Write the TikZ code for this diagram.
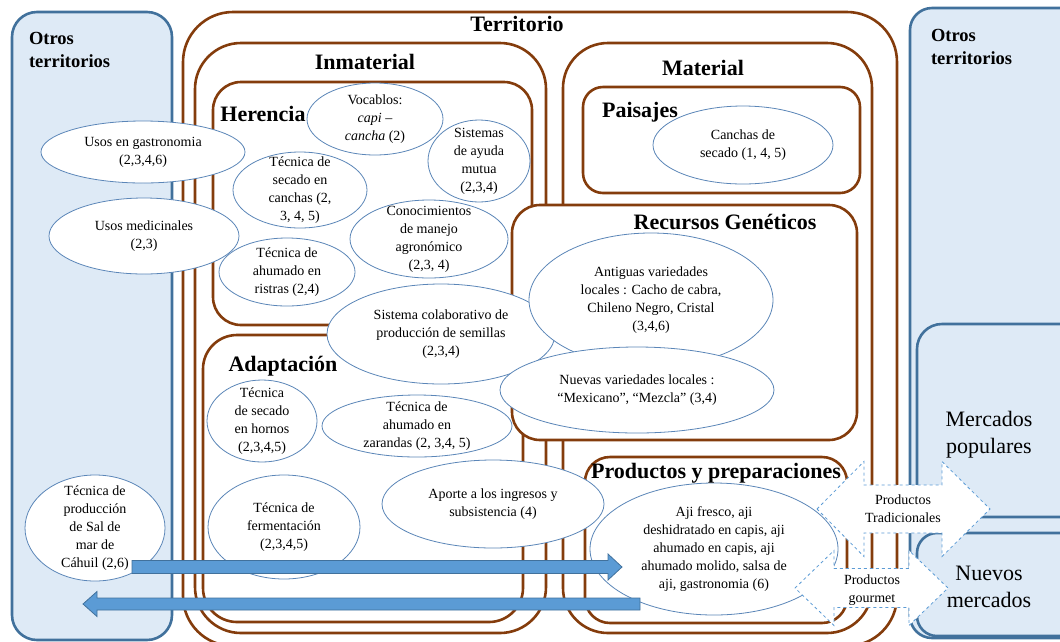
\documentclass[tikz,border=0pt]{standalone}
\usepackage{fontspec}
\setmainfont{Liberation Serif}
\usetikzlibrary{calc}
\definecolor{terrbrown}{HTML}{843C0C}
\definecolor{boxblue}{HTML}{41719C}
\definecolor{boxfill}{HTML}{DEEAF6}
\definecolor{ovalblue}{HTML}{5B86B8}
\definecolor{arrowblue}{HTML}{5B9BD5}
\begin{document}
\begin{tikzpicture}[x=1pt,y=-1pt,inner sep=0pt,outer sep=0pt,
brownbox/.style={draw=terrbrown,line width=2.6pt,fill=white},
bluebox/.style={draw=boxblue,line width=2.6pt,fill=boxfill},
oval/.style={draw=ovalblue,line width=0.8pt,fill=white},
txt/.style={align=center,font=\fontsize{14}{18}\selectfont},
headtxt/.style={font=\fontsize{22}{26}\selectfont\bfseries},
othertxt/.style={anchor=west,align=left,font=\fontsize{18.5}{23}\selectfont\bfseries},
markettxt/.style={align=center,font=\fontsize{22}{27}\selectfont},
bigarrow/.style={draw=boxblue,line width=0.8pt,fill=arrowblue},
dasharrow/.style={draw=arrowblue,dashed,line width=0.8pt,fill=white}]
\useasboundingbox (0,0) rectangle (1060,641);
\clip (0,0) rectangle (1060,641);
% otros territorios
\draw[bluebox,rounded corners=25pt] (12,12) rectangle (172,640);
\draw[bluebox,rounded corners=22pt] (910,8) rectangle (1085,638);
\draw[bluebox,rounded corners=25pt] (917,324) rectangle (1085,517);
\draw[bluebox,rounded corners=20pt] (917,533) rectangle (1085,636);
% territorio
\draw[brownbox,rounded corners=50pt] (183,12) rectangle (897,646);
\draw[brownbox,rounded corners=46pt] (195,43) rectangle (546,633);
\draw[brownbox,rounded corners=45pt] (563,43) rectangle (872,633);
\draw[brownbox,rounded corners=28pt] (213,82) rectangle (532,325);
\draw[brownbox,rounded corners=34pt] (203,335) rectangle (523,622);
\draw[brownbox,rounded corners=20pt] (583,87) rectangle (860,193);
\draw[brownbox,rounded corners=28pt] (512,205) rectangle (857,440);
\draw[brownbox,rounded corners=25pt] (585,457) rectangle (847,623);
% herencia
\draw[oval] (143,152) ellipse [x radius=102,y radius=31] node[txt] (usosgas) {Usos en gastronomia\\(2,3,4,6)};
\draw[oval] (144,236) ellipse [x radius=95,y radius=38] node[txt] (usosmed) {Usos medicinales\\(2,3)};
\draw[oval] (375,119) ellipse [x radius=68,y radius=36] node[txt] (vocablos) {Vocablos:\\\textit{capi} –\\\textit{cancha} (2)};
\draw[oval] (300,190) ellipse [x radius=67,y radius=38] node[txt] (secadocan) {Técnica de\\secado en\\canchas (2,\\3, 4, 5)};
\draw[oval] (479,161) ellipse [x radius=51,y radius=41] node[txt] (ayuda) {Sistemas\\de ayuda\\mutua\\(2,3,4)};
\draw[oval] (429,239) ellipse [x radius=79,y radius=39] node[txt] (manejo) {Conocimientos\\de manejo\\agronómico\\(2,3, 4)};
\draw[oval] (287,272) ellipse [x radius=68,y radius=34] node[txt] (ristras) {Técnica de\\ahumado en\\ristras (2,4)};
\draw[oval] (441,334) ellipse [x radius=114,y radius=50] node[txt] (semillas) {Sistema colaborativo de\\producción de semillas\\(2,3,4)};
% recursos geneticos
\draw[oval] (651,300) ellipse [x radius=122,y radius=67] node[txt] (antiguas) {Antiguas variedades\\locales : Cacho de cabra,\\Chileno Negro, Cristal\\(3,4,6)};
\draw[oval] (637,390) ellipse [x radius=137,y radius=43] node[txt] (nuevas) {Nuevas variedades locales :\\“Mexicano”, “Mezcla” (3,4)};
% adaptacion
\draw[oval] (262,421) ellipse [x radius=55,y radius=41] node[txt] (hornos) {Técnica\\de secado\\en hornos\\(2,3,4,5)};
\draw[oval] (417,426) ellipse [x radius=95,y radius=31] node[txt] (zarandas) {Técnica de\\ahumado en\\zarandas (2, 3,4, 5)};
\draw[oval] (284,527) ellipse [x radius=76,y radius=52] node[txt] (ferment) {Técnica de\\fermentación\\(2,3,4,5)};
\draw[oval] (493,504) ellipse [x radius=111,y radius=44] node[txt] (aporte) {Aporte a los ingresos y\\subsistencia (4)};
\draw[oval] (95,528) ellipse [x radius=70,y radius=53] node[txt] (sal) {Técnica de\\producción\\de Sal de\\mar de\\Cáhuil (2,6)};
% material
\draw[oval] (743,145) ellipse [x radius=90,y radius=39] node[txt] (canchas) {Canchas de\\secado (1, 4, 5)};
\draw[oval] (714,549) ellipse [x radius=124,y radius=66] node[txt] (aji) {Aji fresco, aji\\deshidratado en capis, aji\\ahumado en capis, aji\\ahumado molido, salsa de\\aji, gastronomia (6)};
% titulos
\node[headtxt] (territorio) at (517,24) {Territorio};
\node[headtxt] (inmaterial) at (365,62) {Inmaterial};
\node[headtxt] (material) at (703,68) {Material};
\node[headtxt] (herencia) at (263,114) {Herencia};
\node[headtxt] (paisajes) at (640,112) {Paisajes};
\node[headtxt] (recursos) at (725,222) {Recursos Genéticos};
\node[headtxt] (adaptacion) at (283,366) {Adaptación};
\node[headtxt] (productos) at (716,473) {Productos y preparaciones};
\node[othertxt] (otrosizq) at (29,50) {Otros\\territorios};
\node[othertxt] (otrosder) at (931,47) {Otros\\territorios};
\node[markettxt] (populares) at (989,435) {Mercados\\populares};
\node[markettxt] (nuevosm) at (989,587) {Nuevos\\mercados};
% flechas
\coordinate (salout) at (132,567);
\coordinate (ajiin) at (622,567);
\coordinate (ajiout) at (640,604);
\coordinate (otrosin) at (83,604);
\draw[bigarrow] ($(salout)+(0,-6.5)$) -- ($(ajiin)+(-14,-6.5)$) -- ($(ajiin)+(-14,-13)$) -- (ajiin)
  -- ($(ajiin)+(-14,13)$) -- ($(ajiin)+(-14,6.5)$) -- ($(salout)+(0,6.5)$) -- cycle;
\draw[bigarrow] ($(ajiout)+(0,-6)$) -- ($(otrosin)+(14,-6)$) -- ($(otrosin)+(14,-12.5)$) -- (otrosin)
  -- ($(otrosin)+(14,12.5)$) -- ($(otrosin)+(14,6)$) -- ($(ajiout)+(0,6)$) -- cycle;
\draw[dasharrow] (795,588) -- (834,550.5) -- (834,568.5) -- (909,568.5) -- (909,550.5) -- (948,588)
  -- (909,625.5) -- (909,607.5) -- (834,607.5) -- (834,625.5) -- cycle;
\node[txt] (gourmet) at (872,590) {Productos\\gourmet};
\draw[dasharrow] (817,509) -- (864,461.5) -- (864,485) -- (942,485) -- (942,461.5) -- (990,509)
  -- (942,556.5) -- (942,533) -- (864,533) -- (864,556.5) -- cycle;
\node[txt] (tradic) at (903,509) {Productos\\Tradicionales};
\end{tikzpicture}
\end{document}
